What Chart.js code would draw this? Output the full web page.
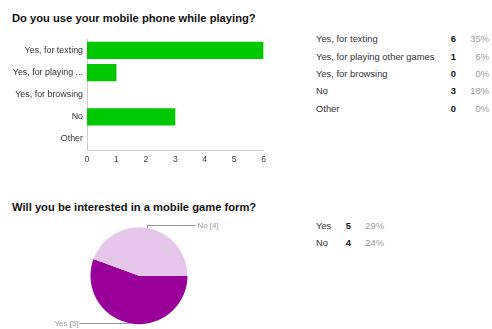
<!DOCTYPE html>
<html>
<head>
<meta charset="utf-8">
<script src="https://cdn.jsdelivr.net/npm/chart.js@4/dist/chart.umd.min.js"></script>
<style>
  html, body { margin: 0; padding: 0; background: #fff; }
  body { width: 492px; height: 329px; position: relative; overflow: hidden;
         font-family: "Liberation Sans", Arial, sans-serif; }
  .title { position: absolute; left: 12px; font-weight: bold; font-size: 11.2px;
           line-height: 14px; color: #111; white-space: nowrap; }
  .cell { position: absolute; font-size: 9.4px; line-height: 12px; white-space: nowrap; color: #333; }
  .cnt { font-weight: bold; color: #111; text-align: right; }
  .pct { color: #999; text-align: right; }
  canvas { position: absolute; }
</style>
</head>
<body>
<div class="title" style="top:11px">Do you use your mobile phone while playing?</div>
<div class="title" style="top:200px">Will you be interested in a mobile game form?</div>
<div id="barTable"></div>
<div id="pieTable"></div>
<canvas id="barChart" width="270" height="140" style="left:0;top:30px;width:270px;height:140px"></canvas>
<canvas id="pieChart" width="280" height="114" style="left:0;top:215px;width:280px;height:114px"></canvas>
<script>
// Survey answers: phone use while playing
const barCategories = ['Yes, for texting', 'Yes, for playing other games', 'Yes, for browsing', 'No', 'Other'];
const barCounts = [6, 1, 0, 3, 0];
const barPercents = ['35%', '6%', '0%', '18%', '0%'];
const xTickMax = 6;

// Survey answers: interest in a mobile game form
const pieCategories = ['Yes', 'No'];
const pieCounts = [5, 4];
const piePercents = ['29%', '24%'];

const textFont = '"Liberation Sans", Arial, sans-serif';

// Summary tables to the right of each chart
function buildTable(containerId, labels, counts, pcts, firstY, step, countRight, pctRight) {
  const box = document.getElementById(containerId);
  labels.forEach((lab, i) => {
    const top = firstY + i * step - 6;
    const a = document.createElement('div');
    a.className = 'cell'; a.style.left = '316px'; a.style.top = top + 'px';
    a.textContent = lab;
    const b = document.createElement('div');
    b.className = 'cell cnt'; b.style.right = (492 - countRight) + 'px'; b.style.top = top + 'px';
    b.textContent = counts[i];
    const c = document.createElement('div');
    c.className = 'cell pct'; c.style.right = (492 - pctRight) + 'px'; c.style.top = top + 'px';
    c.textContent = pcts[i];
    box.appendChild(a); box.appendChild(b); box.appendChild(c);
  });
}
buildTable('barTable', barCategories, barCounts, barPercents, 39.3, 17.35, 456, 489);
buildTable('pieTable', pieCategories, pieCounts, piePercents, 225.7, 17.6, 351, 384);

// Horizontal bar chart
new Chart(document.getElementById('barChart'), {
  type: 'bar',
  data: {
    labels: barCategories,
    datasets: [{
      data: barCounts,
      backgroundColor: '#00c800',
      borderWidth: 0,
      categoryPercentage: 1,
      barPercentage: 0.78
    }]
  },
  options: {
    indexAxis: 'y',
    responsive: false,
    animation: false,
    layout: { padding: { top: 8.5, right: 6, left: 0, bottom: 0 } },
    plugins: { legend: { display: false }, tooltip: { enabled: false } },
    scales: {
      x: {
        min: 0, max: xTickMax,
        ticks: { stepSize: 1, color: '#444', padding: 4, font: { family: textFont, size: 8.7 } },
        grid: { display: false, drawTicks: false },
        border: { display: true, color: '#ccc', width: 1 },
        afterFit: s => { s.height = 20; }
      },
      y: {
        ticks: {
          color: '#333', padding: 4, font: { family: textFont, size: 8.9 },
          callback: function (v) {
            const t = this.getLabelForValue(v);
            return t.length > 18 ? t.slice(0, 16) + ' ...' : t;
          }
        },
        grid: { display: false, drawTicks: false },
        border: { display: true, color: '#ccc', width: 1 },
        afterFit: s => { s.width = 87; }
      }
    }
  }
});

// Leader-line labels for pie slices ("Yes [5]")
const pieLeaders = {
  id: 'pieLeaders',
  afterDraw(chart) {
    const ctx = chart.ctx;
    const meta = chart.getDatasetMeta(0);
    ctx.save();
    ctx.strokeStyle = '#999';
    ctx.lineWidth = 1;
    ctx.fillStyle = '#999';
    ctx.font = '8px ' + textFont;
    ctx.textBaseline = 'middle';
    meta.data.forEach((arc, i) => {
      const mid = (arc.startAngle + arc.endAngle) / 2;
      const px = arc.x + Math.cos(mid) * arc.outerRadius;
      const py = arc.y + Math.sin(mid) * arc.outerRadius;
      const text = chart.data.labels[i] + ' [' + chart.data.datasets[0].data[i] + ']';
      ctx.beginPath();
      if (py < arc.y) {
        const ly = Math.round(py - 3) + 0.5;
        ctx.moveTo(Math.round(px) + 0.5, py);
        ctx.lineTo(Math.round(px) + 0.5, ly);
        ctx.lineTo(px + 48, ly);
        ctx.stroke();
        ctx.textAlign = 'left';
        ctx.fillText(text, px + 50, ly);
      } else {
        const ly = Math.round(py - 0.5) + 0.5;
        ctx.moveTo(px, ly);
        ctx.lineTo(px - 51, ly);
        ctx.stroke();
        ctx.textAlign = 'right';
        ctx.fillText(text, px - 52, ly);
      }
    });
    ctx.restore();
  }
};

new Chart(document.getElementById('pieChart'), {
  type: 'pie',
  data: {
    labels: pieCategories,
    datasets: [{
      data: pieCounts,
      backgroundColor: ['#990099', '#e7c6ec'],
      borderWidth: 0
    }]
  },
  options: {
    responsive: false,
    animation: false,
    rotation: 90,
    layout: { padding: { left: 90.5, right: 92.5, top: 12.2, bottom: 4.8 } },
    plugins: { legend: { display: false }, tooltip: { enabled: false } }
  },
  plugins: [pieLeaders]
});
</script>
</body>
</html>
